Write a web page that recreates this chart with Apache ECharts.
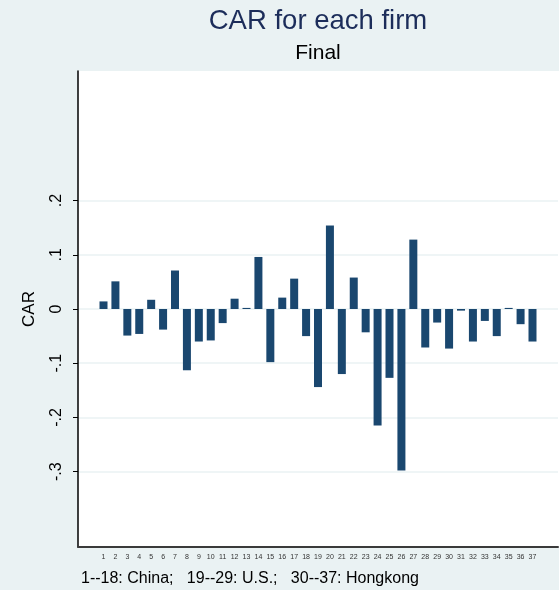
<!DOCTYPE html>
<html>
<head>
<meta charset="utf-8">
<script src="https://cdn.jsdelivr.net/npm/echarts@6/dist/echarts.min.js"></script>
<style>
  html, body { margin: 0; padding: 0; background: #eaf2f3; }
  #chart { width: 559px; height: 590px; }
</style>
</head>
<body>
<div id="chart"></div>
<script>
// firm numbers and their cumulative abnormal returns
const firms = Array.from({ length: 37 }, (_, i) => i + 1)
const car = [
  0.014, 0.051, -0.049, -0.046, 0.017, -0.038, 0.071, -0.113, -0.060, -0.058,
  -0.026, 0.019, 0.002, 0.096, -0.098, 0.021, 0.056, -0.050, -0.144, 0.154,
  -0.120, 0.058, -0.043, -0.215, -0.127, -0.298, 0.128, -0.071, -0.025, -0.073,
  -0.003, -0.060, -0.022, -0.050, 0.002, -0.028, -0.060
]
const yTicks = [-0.3, -0.2, -0.1, 0, 0.1, 0.2]

const font = '"Liberation Sans", Arial, sans-serif'
const fmt = (v) => (v === 0 ? '0' : v.toFixed(1).replace('0.', '.'))

const chart = echarts.init(document.getElementById('chart'))

chart.setOption({
  backgroundColor: '#eaf2f3',
  animation: false,
  graphic: [
    {
      type: 'rect',
      shape: { x: 78, y: 71, width: 481, height: 476 },
      style: { fill: '#ffffff' },
      z: -10
    },
    {
      type: 'text',
      style: {
        text: 'CAR for each firm', x: 318, y: 21, align: 'center', verticalAlign: 'middle',
        font: '27.5px ' + font, fill: '#1c2d5a'
      }
    },
    {
      type: 'text',
      style: {
        text: 'Final', x: 318, y: 53, align: 'center', verticalAlign: 'middle',
        font: '21px ' + font, fill: '#000000'
      }
    },
    {
      type: 'text',
      style: {
        text: '1--18: China;   19--29: U.S.;   30--37: Hongkong', x: 81, y: 579, verticalAlign: 'middle',
        font: '16px ' + font, fill: '#000000'
      }
    }
  ],
  grid: { left: 78, right: 1, top: 71, bottom: 43, outerBoundsMode: 'none', containLabel: false },
  xAxis: {
    type: 'value',
    min: -1.14,
    max: 39.14,
    axisLine: { onZero: false, lineStyle: { color: '#3a3a3a', width: 2 } },
    axisTick: { show: false },
    splitLine: { show: false },
    axisLabel: { customValues: firms, fontSize: 7, color: '#333', margin: 7, fontFamily: font }
  },
  yAxis: {
    type: 'value',
    min: -0.439,
    max: 0.439,
    name: 'CAR',
    nameLocation: 'middle',
    nameRotate: 90,
    nameGap: 40,
    nameTextStyle: { fontSize: 17, color: '#000', fontFamily: font },
    axisLine: { onZero: false, lineStyle: { color: '#000', width: 1.5 } },
    axisTick: { customValues: yTicks, inside: false, length: 5, lineStyle: { color: '#000', width: 1 } },
    axisLabel: {
      customValues: yTicks, rotate: 90, fontSize: 16, color: '#000', margin: 13,
      fontFamily: font, formatter: fmt
    },
    splitLine: { show: true, lineStyle: { color: '#eaf2f3', width: 1.5 } }
  },
  series: [
    {
      type: 'bar',
      barWidth: 8,
      itemStyle: { color: '#1a476f' },
      data: firms.map((f, i) => [f, car[i]])
    }
  ]
})
</script>
</body>
</html>
